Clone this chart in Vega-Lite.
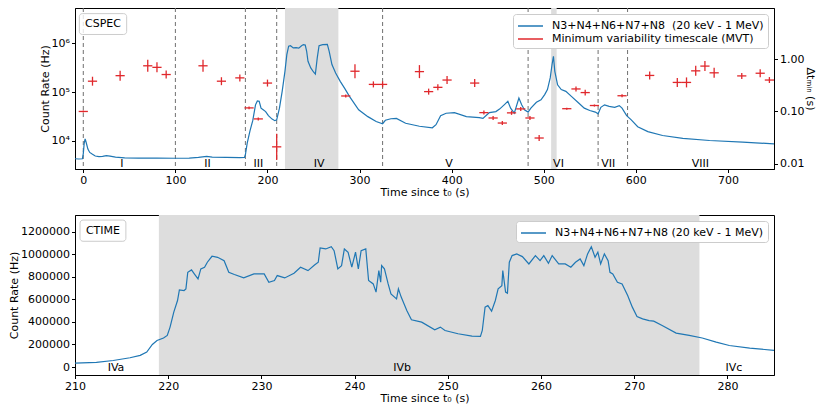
{
  "$schema": "https://vega.github.io/schema/vega-lite/v6.json",
  "padding": {"left": 8, "top": 7, "right": 0, "bottom": 0},
  "spacing": 16,
  "datasets": {
    "cspec": [
      {"t": -9, "rate": 4300}, {"t": -5, "rate": 4250}, {"t": -1, "rate": 4300}, {"t": 0, "rate": 5500},
      {"t": 1, "rate": 9000}, {"t": 2, "rate": 11000}, {"t": 3, "rate": 9500}, {"t": 5, "rate": 6800},
      {"t": 7, "rate": 5800}, {"t": 10, "rate": 5300}, {"t": 13, "rate": 4900}, {"t": 17, "rate": 4750},
      {"t": 21, "rate": 4800}, {"t": 25, "rate": 5000}, {"t": 29, "rate": 4850}, {"t": 35, "rate": 4650},
      {"t": 45, "rate": 4500}, {"t": 60, "rate": 4450}, {"t": 80, "rate": 4450}, {"t": 100, "rate": 4400},
      {"t": 115, "rate": 4450}, {"t": 125, "rate": 4600}, {"t": 134, "rate": 4800}, {"t": 140, "rate": 4650},
      {"t": 155, "rate": 4600}, {"t": 170, "rate": 4550}, {"t": 175, "rate": 4600}, {"t": 176, "rate": 5200},
      {"t": 178, "rate": 9000}, {"t": 181, "rate": 16000}, {"t": 184, "rate": 26000}, {"t": 187, "rate": 55000},
      {"t": 189, "rate": 66000}, {"t": 191, "rate": 65000}, {"t": 193, "rate": 47000}, {"t": 195, "rate": 44000},
      {"t": 198, "rate": 40000}, {"t": 201, "rate": 33000}, {"t": 205, "rate": 28000}, {"t": 208, "rate": 26000},
      {"t": 210, "rate": 27000}, {"t": 213, "rate": 47000}, {"t": 216, "rate": 105000}, {"t": 219, "rate": 270000},
      {"t": 221, "rate": 590000}, {"t": 223, "rate": 880000}, {"t": 225, "rate": 900000}, {"t": 228, "rate": 810000},
      {"t": 231, "rate": 820000}, {"t": 234, "rate": 800000}, {"t": 237, "rate": 900000}, {"t": 239, "rate": 950000},
      {"t": 241, "rate": 930000}, {"t": 242.5, "rate": 700000}, {"t": 244, "rate": 430000}, {"t": 247, "rate": 315000},
      {"t": 250, "rate": 260000}, {"t": 252, "rate": 236000}, {"t": 254, "rate": 500000}, {"t": 256, "rate": 900000},
      {"t": 260, "rate": 950000}, {"t": 265, "rate": 960000}, {"t": 267, "rate": 690000}, {"t": 270, "rate": 370000},
      {"t": 274, "rate": 248000}, {"t": 279, "rate": 167000}, {"t": 284, "rate": 118000}, {"t": 289, "rate": 82000},
      {"t": 299, "rate": 43500}, {"t": 309, "rate": 31500}, {"t": 318, "rate": 25000}, {"t": 325, "rate": 22500},
      {"t": 328, "rate": 26500}, {"t": 334, "rate": 28500}, {"t": 340, "rate": 29000}, {"t": 350, "rate": 23000},
      {"t": 365, "rate": 20000}, {"t": 379, "rate": 18600}, {"t": 383, "rate": 21500}, {"t": 388, "rate": 33000},
      {"t": 394, "rate": 37000}, {"t": 403, "rate": 38000}, {"t": 416, "rate": 31600}, {"t": 430, "rate": 30000},
      {"t": 434, "rate": 29000}, {"t": 438, "rate": 34000}, {"t": 441, "rate": 38000}, {"t": 448, "rate": 40000},
      {"t": 452, "rate": 45000}, {"t": 457, "rate": 55000}, {"t": 461, "rate": 65000}, {"t": 464, "rate": 47000},
      {"t": 468, "rate": 37000}, {"t": 473, "rate": 76000}, {"t": 476, "rate": 55000}, {"t": 479, "rate": 43500},
      {"t": 483, "rate": 39000}, {"t": 486, "rate": 47000}, {"t": 492, "rate": 62000}, {"t": 497, "rate": 70000},
      {"t": 501, "rate": 89000}, {"t": 504, "rate": 113000}, {"t": 507, "rate": 196000}, {"t": 509, "rate": 370000},
      {"t": 510.5, "rate": 547000}, {"t": 512, "rate": 268000}, {"t": 515, "rate": 142000}, {"t": 519, "rate": 113000},
      {"t": 524, "rate": 104000}, {"t": 530, "rate": 82000}, {"t": 537, "rate": 62000}, {"t": 544, "rate": 47000},
      {"t": 550, "rate": 42000}, {"t": 556, "rate": 39000}, {"t": 559, "rate": 36000}, {"t": 562, "rate": 49000},
      {"t": 566, "rate": 55000}, {"t": 571, "rate": 51000}, {"t": 577, "rate": 49000}, {"t": 582, "rate": 53000},
      {"t": 585, "rate": 47000}, {"t": 590, "rate": 33000}, {"t": 595, "rate": 27000}, {"t": 602, "rate": 19600},
      {"t": 613, "rate": 15500}, {"t": 629, "rate": 12900}, {"t": 651, "rate": 11300}, {"t": 680, "rate": 10200},
      {"t": 716, "rate": 9400}, {"t": 750, "rate": 8700}
    ],
    "mvt": [
      {"t": 0, "tlo": -5, "thi": 5, "mvt": 0.1, "lo": 0.0957, "hi": 0.1045},
      {"t": 10, "tlo": 5, "thi": 15, "mvt": 0.38, "lo": 0.312, "hi": 0.463},
      {"t": 40, "tlo": 35, "thi": 45, "mvt": 0.485, "lo": 0.389, "hi": 0.605},
      {"t": 70, "tlo": 65, "thi": 75, "mvt": 0.75, "lo": 0.576, "hi": 0.977},
      {"t": 80, "tlo": 75, "thi": 85, "mvt": 0.7, "lo": 0.561, "hi": 0.873},
      {"t": 90, "tlo": 85, "thi": 95, "mvt": 0.51, "lo": 0.427, "hi": 0.608},
      {"t": 130, "tlo": 125, "thi": 135, "mvt": 0.75, "lo": 0.576, "hi": 0.977},
      {"t": 150, "tlo": 145, "thi": 155, "mvt": 0.38, "lo": 0.319, "hi": 0.453},
      {"t": 170, "tlo": 165, "thi": 175, "mvt": 0.44, "lo": 0.377, "hi": 0.513},
      {"t": 180, "tlo": 175, "thi": 185, "mvt": 0.117, "lo": 0.11, "hi": 0.125},
      {"t": 190, "tlo": 185, "thi": 195, "mvt": 0.072, "lo": 0.0674, "hi": 0.0769},
      {"t": 200, "tlo": 195, "thi": 205, "mvt": 0.35, "lo": 0.3, "hi": 0.408},
      {"t": 210, "tlo": 205, "thi": 215, "mvt": 0.021, "lo": 0.0118, "hi": 0.0373},
      {"t": 285, "tlo": 280, "thi": 290, "mvt": 0.198, "lo": 0.185, "hi": 0.211},
      {"t": 295, "tlo": 290, "thi": 300, "mvt": 0.59, "lo": 0.433, "hi": 0.804},
      {"t": 315, "tlo": 310, "thi": 320, "mvt": 0.33, "lo": 0.289, "hi": 0.377},
      {"t": 325, "tlo": 320, "thi": 330, "mvt": 0.33, "lo": 0.289, "hi": 0.377},
      {"t": 365, "tlo": 360, "thi": 370, "mvt": 0.58, "lo": 0.435, "hi": 0.773},
      {"t": 375, "tlo": 370, "thi": 380, "mvt": 0.24, "lo": 0.21, "hi": 0.274},
      {"t": 385, "tlo": 380, "thi": 390, "mvt": 0.29, "lo": 0.254, "hi": 0.331},
      {"t": 395, "tlo": 390, "thi": 400, "mvt": 0.4, "lo": 0.335, "hi": 0.477},
      {"t": 425, "tlo": 420, "thi": 430, "mvt": 0.35, "lo": 0.293, "hi": 0.418},
      {"t": 435, "tlo": 430, "thi": 440, "mvt": 0.095, "lo": 0.087, "hi": 0.104},
      {"t": 445, "tlo": 440, "thi": 450, "mvt": 0.075, "lo": 0.0687, "hi": 0.0819},
      {"t": 455, "tlo": 450, "thi": 460, "mvt": 0.06, "lo": 0.055, "hi": 0.0655},
      {"t": 465, "tlo": 460, "thi": 470, "mvt": 0.094, "lo": 0.086, "hi": 0.103},
      {"t": 475, "tlo": 470, "thi": 480, "mvt": 0.112, "lo": 0.1026, "hi": 0.1223},
      {"t": 485, "tlo": 480, "thi": 490, "mvt": 0.075, "lo": 0.0687, "hi": 0.0819},
      {"t": 495, "tlo": 490, "thi": 500, "mvt": 0.031, "lo": 0.0272, "hi": 0.0354},
      {"t": 525, "tlo": 520, "thi": 530, "mvt": 0.113, "lo": 0.108, "hi": 0.118},
      {"t": 535, "tlo": 530, "thi": 540, "mvt": 0.27, "lo": 0.242, "hi": 0.302},
      {"t": 545, "tlo": 540, "thi": 550, "mvt": 0.23, "lo": 0.202, "hi": 0.262},
      {"t": 555, "tlo": 550, "thi": 560, "mvt": 0.13, "lo": 0.124, "hi": 0.136},
      {"t": 585, "tlo": 580, "thi": 590, "mvt": 0.2, "lo": 0.187, "hi": 0.214},
      {"t": 615, "tlo": 610, "thi": 620, "mvt": 0.49, "lo": 0.411, "hi": 0.585},
      {"t": 645, "tlo": 640, "thi": 650, "mvt": 0.36, "lo": 0.295, "hi": 0.439},
      {"t": 655, "tlo": 650, "thi": 660, "mvt": 0.36, "lo": 0.289, "hi": 0.449},
      {"t": 665, "tlo": 660, "thi": 670, "mvt": 0.6, "lo": 0.481, "hi": 0.748},
      {"t": 675, "tlo": 670, "thi": 680, "mvt": 0.74, "lo": 0.593, "hi": 0.923},
      {"t": 685, "tlo": 680, "thi": 690, "mvt": 0.55, "lo": 0.441, "hi": 0.686},
      {"t": 715, "tlo": 710, "thi": 720, "mvt": 0.48, "lo": 0.421, "hi": 0.548},
      {"t": 735, "tlo": 730, "thi": 740, "mvt": 0.54, "lo": 0.453, "hi": 0.644},
      {"t": 745, "tlo": 740, "thi": 750, "mvt": 0.4, "lo": 0.351, "hi": 0.456}
    ],
    "spans_top": [{"start": 219, "end": 277}, {"start": 508, "end": 514}],
    "dashes": [{"t": 0}, {"t": 100}, {"t": 176}, {"t": 210}, {"t": 325}, {"t": 483}, {"t": 559}, {"t": 591}],
    "labels_top": [
      {"t": 42, "y": 3300, "name": "I"}, {"t": 135, "y": 3300, "name": "II"},
      {"t": 190, "y": 3300, "name": "III"}, {"t": 256, "y": 3300, "name": "IV"},
      {"t": 397, "y": 3300, "name": "V"}, {"t": 516, "y": 3300, "name": "VI"},
      {"t": 570, "y": 3300, "name": "VII"}, {"t": 670, "y": 3300, "name": "VIII"}
    ],
    "box_top": [{"x1": -4.3, "x2": 47.1, "y1": 1530000, "y2": 4100000, "xc": 21.4, "yc": 2500000, "name": "CSPEC"}],
    "ctime": [
      {"t": 210, "rate": 35000}, {"t": 212.3, "rate": 41000}, {"t": 214.1, "rate": 58000}, {"t": 215.9, "rate": 82000},
      {"t": 217, "rate": 103000}, {"t": 217.7, "rate": 133000}, {"t": 218.3, "rate": 200000}, {"t": 218.8, "rate": 235000},
      {"t": 219.5, "rate": 257000}, {"t": 219.9, "rate": 280000}, {"t": 220.2, "rate": 354000}, {"t": 220.6, "rate": 487000},
      {"t": 221, "rate": 590000}, {"t": 221.2, "rate": 684000}, {"t": 221.7, "rate": 678000}, {"t": 221.9, "rate": 693000},
      {"t": 222.1, "rate": 840000}, {"t": 222.5, "rate": 861000}, {"t": 222.8, "rate": 826000}, {"t": 223.2, "rate": 781000},
      {"t": 223.5, "rate": 870000}, {"t": 223.9, "rate": 885000}, {"t": 224.2, "rate": 929000}, {"t": 224.7, "rate": 982000},
      {"t": 225.3, "rate": 973000}, {"t": 226, "rate": 943000}, {"t": 226.5, "rate": 840000}, {"t": 227.1, "rate": 820000},
      {"t": 228.1, "rate": 790000}, {"t": 229.2, "rate": 826000}, {"t": 230.3, "rate": 826000}, {"t": 230.8, "rate": 752000},
      {"t": 231.4, "rate": 767000}, {"t": 231.7, "rate": 811000}, {"t": 232.5, "rate": 790000}, {"t": 233.5, "rate": 832000},
      {"t": 234.2, "rate": 885000}, {"t": 235, "rate": 855000}, {"t": 235.7, "rate": 905000}, {"t": 236.1, "rate": 929000},
      {"t": 236.3, "rate": 1056000}, {"t": 236.9, "rate": 1047000}, {"t": 237.5, "rate": 1067000}, {"t": 237.8, "rate": 1032000},
      {"t": 238.2, "rate": 870000}, {"t": 238.6, "rate": 899000}, {"t": 238.9, "rate": 1047000}, {"t": 239.3, "rate": 1018000},
      {"t": 239.7, "rate": 885000}, {"t": 240.1, "rate": 1018000}, {"t": 240.4, "rate": 870000}, {"t": 240.7, "rate": 1032000},
      {"t": 241.2, "rate": 1047000}, {"t": 241.5, "rate": 767000}, {"t": 242, "rate": 737000}, {"t": 242.3, "rate": 664000},
      {"t": 242.6, "rate": 855000}, {"t": 242.8, "rate": 752000}, {"t": 242.9, "rate": 899000}, {"t": 243.2, "rate": 870000},
      {"t": 243.6, "rate": 737000}, {"t": 243.9, "rate": 649000}, {"t": 244.5, "rate": 604000}, {"t": 244.7, "rate": 693000},
      {"t": 245, "rate": 620000}, {"t": 245.6, "rate": 501000}, {"t": 246.1, "rate": 419000}, {"t": 247.2, "rate": 398000},
      {"t": 248.6, "rate": 330000}, {"t": 249.2, "rate": 354000}, {"t": 249.7, "rate": 324000}, {"t": 251.1, "rate": 295000},
      {"t": 252.6, "rate": 274000}, {"t": 253.5, "rate": 271000}, {"t": 253.7, "rate": 324000}, {"t": 254, "rate": 531000},
      {"t": 254.3, "rate": 545000}, {"t": 254.7, "rate": 496000}, {"t": 255.1, "rate": 590000}, {"t": 255.4, "rate": 693000},
      {"t": 255.8, "rate": 722000}, {"t": 255.9, "rate": 855000}, {"t": 256.2, "rate": 664000}, {"t": 256.4, "rate": 655000},
      {"t": 256.6, "rate": 929000}, {"t": 256.9, "rate": 988000}, {"t": 257.4, "rate": 1003000}, {"t": 258, "rate": 979000},
      {"t": 258.7, "rate": 914000}, {"t": 259.4, "rate": 988000}, {"t": 259.9, "rate": 943000}, {"t": 260.3, "rate": 988000},
      {"t": 260.8, "rate": 920000}, {"t": 261.2, "rate": 988000}, {"t": 261.9, "rate": 914000}, {"t": 262.6, "rate": 914000},
      {"t": 263.2, "rate": 885000}, {"t": 263.7, "rate": 929000}, {"t": 264.2, "rate": 958000}, {"t": 264.6, "rate": 899000},
      {"t": 265, "rate": 1003000}, {"t": 265.4, "rate": 1067000}, {"t": 265.8, "rate": 973000}, {"t": 266.1, "rate": 1018000},
      {"t": 266.4, "rate": 914000}, {"t": 266.8, "rate": 1003000}, {"t": 267.2, "rate": 943000}, {"t": 267.4, "rate": 840000},
      {"t": 267.7, "rate": 826000}, {"t": 268.2, "rate": 752000}, {"t": 268.7, "rate": 737000}, {"t": 269.3, "rate": 634000},
      {"t": 269.8, "rate": 531000}, {"t": 270.3, "rate": 448000}, {"t": 270.9, "rate": 427000}, {"t": 271.6, "rate": 412000},
      {"t": 272.1, "rate": 407000}, {"t": 273, "rate": 368000}, {"t": 274.5, "rate": 301000}, {"t": 275.9, "rate": 280000},
      {"t": 277.3, "rate": 257000}, {"t": 278.8, "rate": 221000}, {"t": 280.2, "rate": 191000}, {"t": 282.4, "rate": 168000},
      {"t": 285, "rate": 147000}
    ],
    "span_bottom": [{"start": 219, "end": 277}],
    "labels_bottom": [
      {"t": 214.4, "y": -8000, "name": "IVa"}, {"t": 245.1, "y": -8000, "name": "IVb"}, {"t": 280.7, "y": -8000, "name": "IVc"}
    ],
    "box_bottom": [{"x1": 210.54, "x2": 215.46, "y1": 1115000, "y2": 1303000, "xc": 213, "yc": 1209000, "name": "CTIME"}]
  },
  "resolve": {"scale": {"color": "independent"}, "legend": {"color": "independent"}},
  "vconcat": [
    {
      "width": 699,
      "height": 161,
      "resolve": {"scale": {"y": "independent"}, "axis": {"y": "independent"}},
      "layer": [
        {
          "layer": [
            {
              "data": {"name": "spans_top"},
              "mark": {"type": "rect", "color": "#dddddd"},
              "encoding": {
                "x": {"field": "start", "type": "quantitative", "scale": {"domain": [-9, 750], "nice": false},
                      "axis": {"title": "Time since t₀ (s)", "values": [0, 100, 200, 300, 400, 500, 600, 700]}},
                "x2": {"field": "end"}
              }
            },
            {
              "data": {"name": "dashes"},
              "mark": {"type": "rule", "color": "#707070", "strokeDash": [4, 3], "strokeWidth": 1},
              "encoding": {
                "x": {"field": "t", "type": "quantitative", "scale": {"domain": [-9, 750], "nice": false},
                      "axis": {"title": "Time since t₀ (s)", "values": [0, 100, 200, 300, 400, 500, 600, 700]}}
              }
            },
            {
              "data": {"name": "cspec"},
              "mark": {"type": "line", "strokeWidth": 1.2, "clip": true},
              "encoding": {
                "x": {"field": "t", "type": "quantitative", "scale": {"domain": [-9, 750], "nice": false},
                      "axis": {"title": "Time since t₀ (s)", "values": [0, 100, 200, 300, 400, 500, 600, 700]}},
                "y": {"field": "rate", "type": "quantitative",
                      "scale": {"type": "log", "domain": [2650, 5350000], "nice": false},
                      "axis": {"title": "Count Rate (Hz)", "values": [10000, 100000, 1000000],
                               "labelExpr": "datum.value == 10000 ? '10⁴' : datum.value == 100000 ? '10⁵' : '10⁶'"}},
                "color": {"datum": "N3+N4+N6+N7+N8 \u00a0(20 keV - 1 MeV)", "type": "nominal",
                          "scale": {"domain": ["N3+N4+N6+N7+N8 \u00a0(20 keV - 1 MeV)", "Minimum variability timescale (MVT)"],
                                    "range": ["#1f77b4", "#e0282c"]},
                          "legend": {"title": null}}
              }
            },
            {
              "data": {"name": "labels_top"},
              "mark": {"type": "text", "fontSize": 11, "baseline": "middle", "color": "black"},
              "encoding": {
                "x": {"field": "t", "type": "quantitative", "scale": {"domain": [-9, 750], "nice": false},
                      "axis": {"title": "Time since t₀ (s)", "values": [0, 100, 200, 300, 400, 500, 600, 700]}},
                "y": {"field": "y", "type": "quantitative",
                      "scale": {"type": "log", "domain": [2650, 5350000], "nice": false},
                      "axis": {"title": "Count Rate (Hz)", "values": [10000, 100000, 1000000],
                               "labelExpr": "datum.value == 10000 ? '10⁴' : datum.value == 100000 ? '10⁵' : '10⁶'"}},
                "text": {"field": "name"}
              }
            },
            {
              "data": {"name": "box_top"},
              "mark": {"type": "rect", "fill": "white", "fillOpacity": 0.8, "stroke": "#cccccc", "strokeWidth": 1, "cornerRadius": 3},
              "encoding": {
                "x": {"field": "x1", "type": "quantitative", "scale": {"domain": [-9, 750], "nice": false},
                      "axis": {"title": "Time since t₀ (s)", "values": [0, 100, 200, 300, 400, 500, 600, 700]}},
                "x2": {"field": "x2"},
                "y": {"field": "y1", "type": "quantitative",
                      "scale": {"type": "log", "domain": [2650, 5350000], "nice": false},
                      "axis": {"title": "Count Rate (Hz)", "values": [10000, 100000, 1000000],
                               "labelExpr": "datum.value == 10000 ? '10⁴' : datum.value == 100000 ? '10⁵' : '10⁶'"}},
                "y2": {"field": "y2"}
              }
            },
            {
              "data": {"name": "box_top"},
              "mark": {"type": "text", "fontSize": 11, "baseline": "middle", "color": "black"},
              "encoding": {
                "x": {"field": "xc", "type": "quantitative", "scale": {"domain": [-9, 750], "nice": false},
                      "axis": {"title": "Time since t₀ (s)", "values": [0, 100, 200, 300, 400, 500, 600, 700]}},
                "y": {"field": "yc", "type": "quantitative",
                      "scale": {"type": "log", "domain": [2650, 5350000], "nice": false},
                      "axis": {"title": "Count Rate (Hz)", "values": [10000, 100000, 1000000],
                               "labelExpr": "datum.value == 10000 ? '10⁴' : datum.value == 100000 ? '10⁵' : '10⁶'"}},
                "text": {"field": "name"}
              }
            }
          ]
        },
        {
          "data": {"name": "mvt"},
          "layer": [
            {
              "mark": {"type": "rule", "strokeWidth": 1.3, "clip": true},
              "encoding": {
                "x": {"field": "tlo", "type": "quantitative", "scale": {"domain": [-9, 750], "nice": false},
                      "axis": {"title": "Time since t₀ (s)", "values": [0, 100, 200, 300, 400, 500, 600, 700]}},
                "x2": {"field": "thi"},
                "y": {"field": "mvt", "type": "quantitative",
                      "scale": {"type": "log", "domain": [0.0079, 9.6], "nice": false},
                      "axis": {"orient": "right", "title": "Δtₘᵢₙ (s)", "values": [0.01, 0.1, 1], "format": ".2f"}},
                "color": {"datum": "Minimum variability timescale (MVT)", "type": "nominal"}
              }
            },
            {
              "mark": {"type": "rule", "strokeWidth": 1.3, "clip": true},
              "encoding": {
                "x": {"field": "t", "type": "quantitative", "scale": {"domain": [-9, 750], "nice": false},
                      "axis": {"title": "Time since t₀ (s)", "values": [0, 100, 200, 300, 400, 500, 600, 700]}},
                "y": {"field": "lo", "type": "quantitative",
                      "scale": {"type": "log", "domain": [0.0079, 9.6], "nice": false},
                      "axis": {"orient": "right", "title": "Δtₘᵢₙ (s)", "values": [0.01, 0.1, 1], "format": ".2f"}},
                "y2": {"field": "hi"},
                "color": {"datum": "Minimum variability timescale (MVT)", "type": "nominal"}
              }
            }
          ]
        }
      ]
    },
    {
      "width": 699,
      "height": 160,
      "layer": [
        {
          "data": {"name": "span_bottom"},
          "mark": {"type": "rect", "color": "#dddddd"},
          "encoding": {
            "x": {"field": "start", "type": "quantitative", "scale": {"domain": [210, 285], "nice": false},
                  "axis": {"title": "Time since t₀ (s)", "values": [210, 220, 230, 240, 250, 260, 270, 280]}},
            "x2": {"field": "end"}
          }
        },
        {
          "data": {"name": "ctime"},
          "mark": {"type": "line", "strokeWidth": 1.2, "clip": true},
          "encoding": {
            "x": {"field": "t", "type": "quantitative", "scale": {"domain": [210, 285], "nice": false},
                  "axis": {"title": "Time since t₀ (s)", "values": [210, 220, 230, 240, 250, 260, 270, 280]}},
            "y": {"field": "rate", "type": "quantitative",
                  "scale": {"domain": [-70800, 1348000], "nice": false, "zero": false},
                  "axis": {"title": "Count Rate (Hz)", "values": [0, 200000, 400000, 600000, 800000, 1000000, 1200000], "format": "d"}},
            "color": {"datum": "N3+N4+N6+N7+N8 (20 keV - 1 MeV)", "type": "nominal",
                      "scale": {"range": ["#1f77b4"]}, "legend": {"title": null}}
          }
        },
        {
          "data": {"name": "labels_bottom"},
          "mark": {"type": "text", "fontSize": 11, "baseline": "middle", "color": "black"},
          "encoding": {
            "x": {"field": "t", "type": "quantitative", "scale": {"domain": [210, 285], "nice": false},
                  "axis": {"title": "Time since t₀ (s)", "values": [210, 220, 230, 240, 250, 260, 270, 280]}},
            "y": {"field": "y", "type": "quantitative", "scale": {"domain": [-70800, 1348000], "nice": false, "zero": false},
                  "axis": {"title": "Count Rate (Hz)", "values": [0, 200000, 400000, 600000, 800000, 1000000, 1200000], "format": "d"}},
            "text": {"field": "name"}
          }
        },
        {
          "data": {"name": "box_bottom"},
          "mark": {"type": "rect", "fill": "white", "fillOpacity": 0.8, "stroke": "#cccccc", "strokeWidth": 1, "cornerRadius": 3},
          "encoding": {
            "x": {"field": "x1", "type": "quantitative", "scale": {"domain": [210, 285], "nice": false},
                  "axis": {"title": "Time since t₀ (s)", "values": [210, 220, 230, 240, 250, 260, 270, 280]}},
            "x2": {"field": "x2"},
            "y": {"field": "y1", "type": "quantitative", "scale": {"domain": [-70800, 1348000], "nice": false, "zero": false},
                  "axis": {"title": "Count Rate (Hz)", "values": [0, 200000, 400000, 600000, 800000, 1000000, 1200000], "format": "d"}},
            "y2": {"field": "y2"}
          }
        },
        {
          "data": {"name": "box_bottom"},
          "mark": {"type": "text", "fontSize": 11, "baseline": "middle", "color": "black"},
          "encoding": {
            "x": {"field": "xc", "type": "quantitative", "scale": {"domain": [210, 285], "nice": false},
                  "axis": {"title": "Time since t₀ (s)", "values": [210, 220, 230, 240, 250, 260, 270, 280]}},
            "y": {"field": "yc", "type": "quantitative", "scale": {"domain": [-70800, 1348000], "nice": false, "zero": false},
                  "axis": {"title": "Count Rate (Hz)", "values": [0, 200000, 400000, 600000, 800000, 1000000, 1200000], "format": "d"}},
            "text": {"field": "name"}
          }
        }
      ]
    }
  ],
  "config": {
    "font": "DejaVu Sans",
    "view": {"stroke": "black", "strokeWidth": 1},
    "axis": {
      "grid": false, "domainColor": "black", "tickColor": "black", "labelColor": "black", "titleColor": "black",
      "labelFont": "DejaVu Sans", "titleFont": "DejaVu Sans", "labelFontSize": 11, "titleFontSize": 11,
      "titleFontWeight": "normal", "tickSize": 3.5, "labelPadding": 2, "titlePadding": 1, "labelFlush": false,
      "labelOverlap": false
    },
    "legend": {
      "orient": "top-right", "offset": 6, "padding": 4, "fillColor": "white", "strokeColor": "#cccccc", "cornerRadius": 3,
      "labelFont": "DejaVu Sans", "labelFontSize": 11, "labelColor": "black", "symbolType": "M-1,0H2.57", "symbolSize": 196,
      "symbolStrokeWidth": 1.5, "rowPadding": 0, "labelOffset": 19, "labelLimit": 400
    }
  }
}
